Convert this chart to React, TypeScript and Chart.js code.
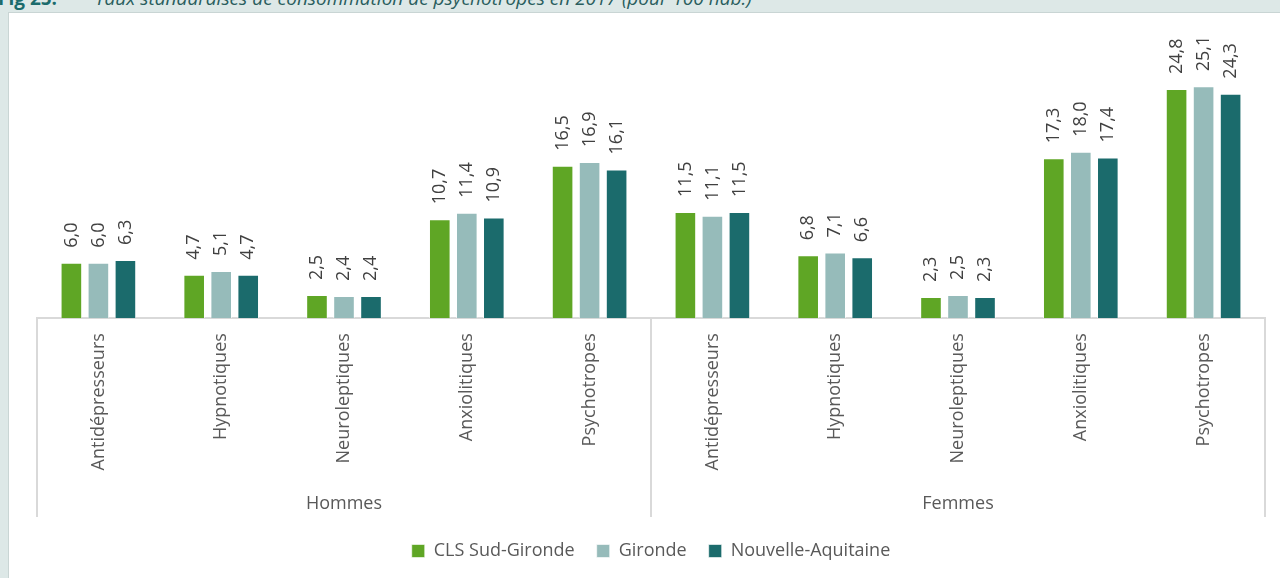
import React, { useEffect, useRef } from "react";
import { Chart, registerables } from "chart.js";

Chart.register(...registerables);

const categories = [
  "Antidépresseurs", "Hypnotiques", "Neuroleptiques", "Anxiolitiques", "Psychotropes",
  "Antidépresseurs", "Hypnotiques", "Neuroleptiques", "Anxiolitiques", "Psychotropes",
];
const groups = ["Hommes", "Femmes"];
const clsSudGironde = [6.0, 4.7, 2.5, 10.7, 16.5, 11.5, 6.8, 2.3, 17.3, 24.8];
const gironde = [6.0, 5.1, 2.4, 11.4, 16.9, 11.1, 7.1, 2.5, 18.0, 25.1];
const nouvelleAquitaine = [6.3, 4.7, 2.4, 10.9, 16.1, 11.5, 6.6, 2.3, 17.4, 24.3];
const seriesNames = ["CLS Sud-Gironde", "Gironde", "Nouvelle-Aquitaine"];
const seriesColors = ["#5fa625", "#96bbba", "#1b6b6c"];

const FONT = "'Open Sans', 'Noto Sans', sans-serif";
const TEXT = "#595959";

const labelsPlugin = {
  id: "barLabels",
  afterDatasetsDraw(chart: any) {
    const ctx = chart.ctx;
    ctx.save();
    ctx.fillStyle = "#404040";
    ctx.font = `18px ${FONT}`;
    ctx.textAlign = "left";
    ctx.textBaseline = "middle";
    chart.data.datasets.forEach((ds: any, di: number) => {
      const meta = chart.getDatasetMeta(di);
      meta.data.forEach((bar: any, i: number) => {
        const v = ds.data[i] as number;
        ctx.save();
        ctx.translate(bar.x, bar.y - 15);
        ctx.rotate(-Math.PI / 2);
        ctx.fillText(v.toFixed(1).replace(".", ","), 0, 0);
        ctx.restore();
      });
    });
    ctx.restore();
  },
};

const separatorsPlugin = {
  id: "groupSeparators",
  afterDraw(chart: any) {
    const x = chart.scales.x;
    const x2 = chart.scales.x2;
    const ctx = chart.ctx;
    ctx.save();
    ctx.strokeStyle = "#d9d9d9";
    ctx.lineWidth = 2;
    const top = x.top;
    const bottom = x2.bottom - 3;
    const mid = (x.left + x.right) / 2;
    [x.left, mid, x.right].forEach((px: number) => {
      ctx.beginPath();
      ctx.moveTo(px, top);
      ctx.lineTo(px, bottom);
      ctx.stroke();
    });
    ctx.restore();
  },
};

export default function App() {
  const ref = useRef<HTMLCanvasElement>(null);
  useEffect(() => {
    if (!ref.current) return;
    const chart = new Chart(ref.current, {
      type: "bar",
      data: {
        labels: categories,
        datasets: [clsSudGironde, gironde, nouvelleAquitaine].map((d, i) => ({
          label: seriesNames[i],
          data: d,
          backgroundColor: seriesColors[i],
          borderColor: "rgba(255,255,255,0.6)",
          borderWidth: 1,
          categoryPercentage: 0.66,
          barPercentage: 0.8,
          xAxisID: "x",
          yAxisID: "y",
        })),
      },
      options: {
        responsive: false,
        animation: false,
        layout: { padding: { left: 28, right: 15, top: 28, bottom: 8 } },
        plugins: {
          legend: {
            position: "bottom",
            labels: {
              boxWidth: 13,
              boxHeight: 13,
              color: TEXT,
              font: { family: FONT, size: 18 },
              padding: 22,
            },
          },
          tooltip: { enabled: false },
        },
        scales: {
          x: {
            type: "category",
            grid: { display: false, drawTicks: false },
            border: { display: true, color: "#d9d9d9", width: 2 },
            ticks: {
              autoSkip: false,
              minRotation: 90,
              maxRotation: 90,
              color: TEXT,
              font: { family: FONT, size: 18 },
              padding: 15,
            },
          },
          x2: {
            type: "category",
            position: "bottom",
            labels: groups,
            offset: true,
            grid: { display: false, drawTicks: false },
            border: { display: false },
            ticks: {
              color: TEXT,
              font: { family: FONT, size: 18 },
              padding: 8,
            },
            afterFit: (scale: any) => {
              scale.height -= 3;
            },
          },
          y: { display: false, min: 0, max: 30 },
        },
      },
      plugins: [labelsPlugin, separatorsPlugin],
    } as any);
    return () => chart.destroy();
  }, []);

  return (
    <div style={{ position: "fixed", inset: 0, background: "#dde8e7", overflow: "hidden", fontFamily: FONT }}>
      <div style={{ position: "absolute", left: -2, top: -15, fontSize: 19, color: "#1b6b6c", whiteSpace: "nowrap" }}>
        <span style={{ fontWeight: 700 }}>Fig 25:</span>
        <span style={{ fontStyle: "italic", marginLeft: 38, color: "#2a5e5e" }}>
          Taux standardisés de consommation de psychotropes en 2017 (pour 100 hab.)
        </span>
      </div>
      <div
        style={{
          position: "absolute",
          left: 8,
          top: 12,
          right: 0,
          bottom: 0,
          background: "#ffffff",
          borderTop: "1px solid #c9d5d4",
          borderLeft: "1px solid #c9d5d4",
        }}
      >
        <canvas ref={ref} width={1271} height={565} style={{ display: "block" }} />
      </div>
    </div>
  );
}
